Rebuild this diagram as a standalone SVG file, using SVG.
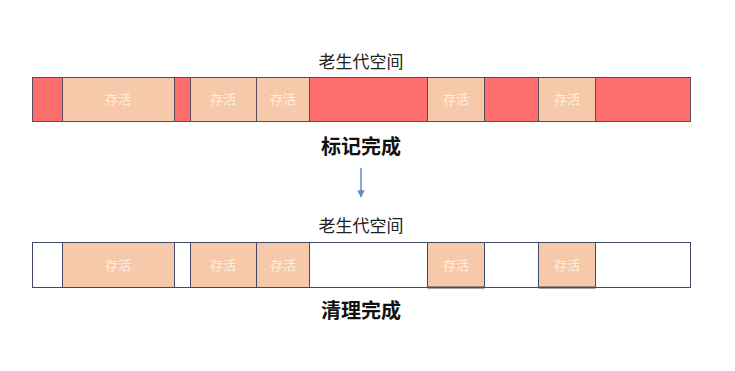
<svg xmlns="http://www.w3.org/2000/svg" width="735" height="371" viewBox="0 0 735 371">
<defs>
<style>
.red{fill:#ff6e6e;stroke:#5a4a5e;stroke-width:1}
.live{fill:#f6c9aa;stroke:#5a4a5e;stroke-width:1}
.free{fill:#ffffff;stroke:#3e4a66;stroke-width:1}
.live2{fill:#f6c9aa;stroke:#3e4a66;stroke-width:1}
.edge{stroke:#3e4a66;stroke-width:2}
.lt{font-family:"Noto Sans CJK SC","Noto Sans",sans-serif;font-size:13px;fill:#fdeee2;text-anchor:middle}
.title{font-family:"Noto Sans CJK SC","Noto Sans",sans-serif;font-size:17px;fill:#222;text-anchor:middle}
.cap{font-family:"Noto Sans CJK SC","Noto Sans",sans-serif;font-size:20px;font-weight:bold;fill:#111;text-anchor:middle}
</style>
<marker id="ah" viewBox="0 0 10 10" refX="9" refY="5" markerWidth="5" markerHeight="5" orient="auto">
<path d="M0,0 L10,5 L0,10 z" fill="#5f8fc4"/>
</marker>
</defs>
<text class="title" x="361" y="68">老生代空间</text>
<g id="bar-marked">
<rect class="red" x="32.5" y="77.5" width="30" height="44"/>
<rect class="live" x="62.5" y="77.5" width="112" height="44"/>
<rect class="red" x="174.5" y="77.5" width="16" height="44"/>
<rect class="live" x="190.5" y="77.5" width="66" height="44"/>
<rect class="live" x="256.5" y="77.5" width="53" height="44"/>
<rect class="red" x="309.5" y="77.5" width="118" height="44"/>
<rect class="live" x="427.5" y="77.5" width="57" height="44"/>
<rect class="red" x="484.5" y="77.5" width="54" height="44"/>
<rect class="live" x="538.5" y="77.5" width="57" height="44"/>
<rect class="red" x="595.5" y="77.5" width="95" height="44"/>
<text class="lt" x="118" y="104">存活</text>
<text class="lt" x="223" y="104">存活</text>
<text class="lt" x="283" y="104">存活</text>
<text class="lt" x="456" y="104">存活</text>
<text class="lt" x="567" y="104">存活</text>
</g>
<text class="cap" x="361" y="154">标记完成</text>
<g id="connectors">
<line x1="361" y1="168" x2="361" y2="197" stroke="#5f8fc4" stroke-width="1.5" marker-end="url(#ah)"/>
</g>
<text class="title" x="361" y="232">老生代空间</text>
<g id="bar-cleaned">
<rect class="free" x="32.5" y="242.5" width="658" height="45"/>
<rect class="live2" x="62.5" y="242.5" width="112" height="45"/>
<rect class="live2" x="190.5" y="242.5" width="66" height="45"/>
<rect class="live2" x="256.5" y="242.5" width="53" height="45"/>
<rect class="live2" x="427.5" y="242.5" width="57" height="45"/>
<rect class="live2" x="538.5" y="242.5" width="57" height="45"/>
<line class="edge" x1="427.5" y1="287.5" x2="484.5" y2="287.5"/>
<line class="edge" x1="538.5" y1="287.5" x2="595.5" y2="287.5"/>
<text class="lt" x="118" y="270">存活</text>
<text class="lt" x="223" y="270">存活</text>
<text class="lt" x="283" y="270">存活</text>
<text class="lt" x="456" y="270">存活</text>
<text class="lt" x="567" y="270">存活</text>
</g>
<text class="cap" x="361" y="318">清理完成</text>
</svg>
